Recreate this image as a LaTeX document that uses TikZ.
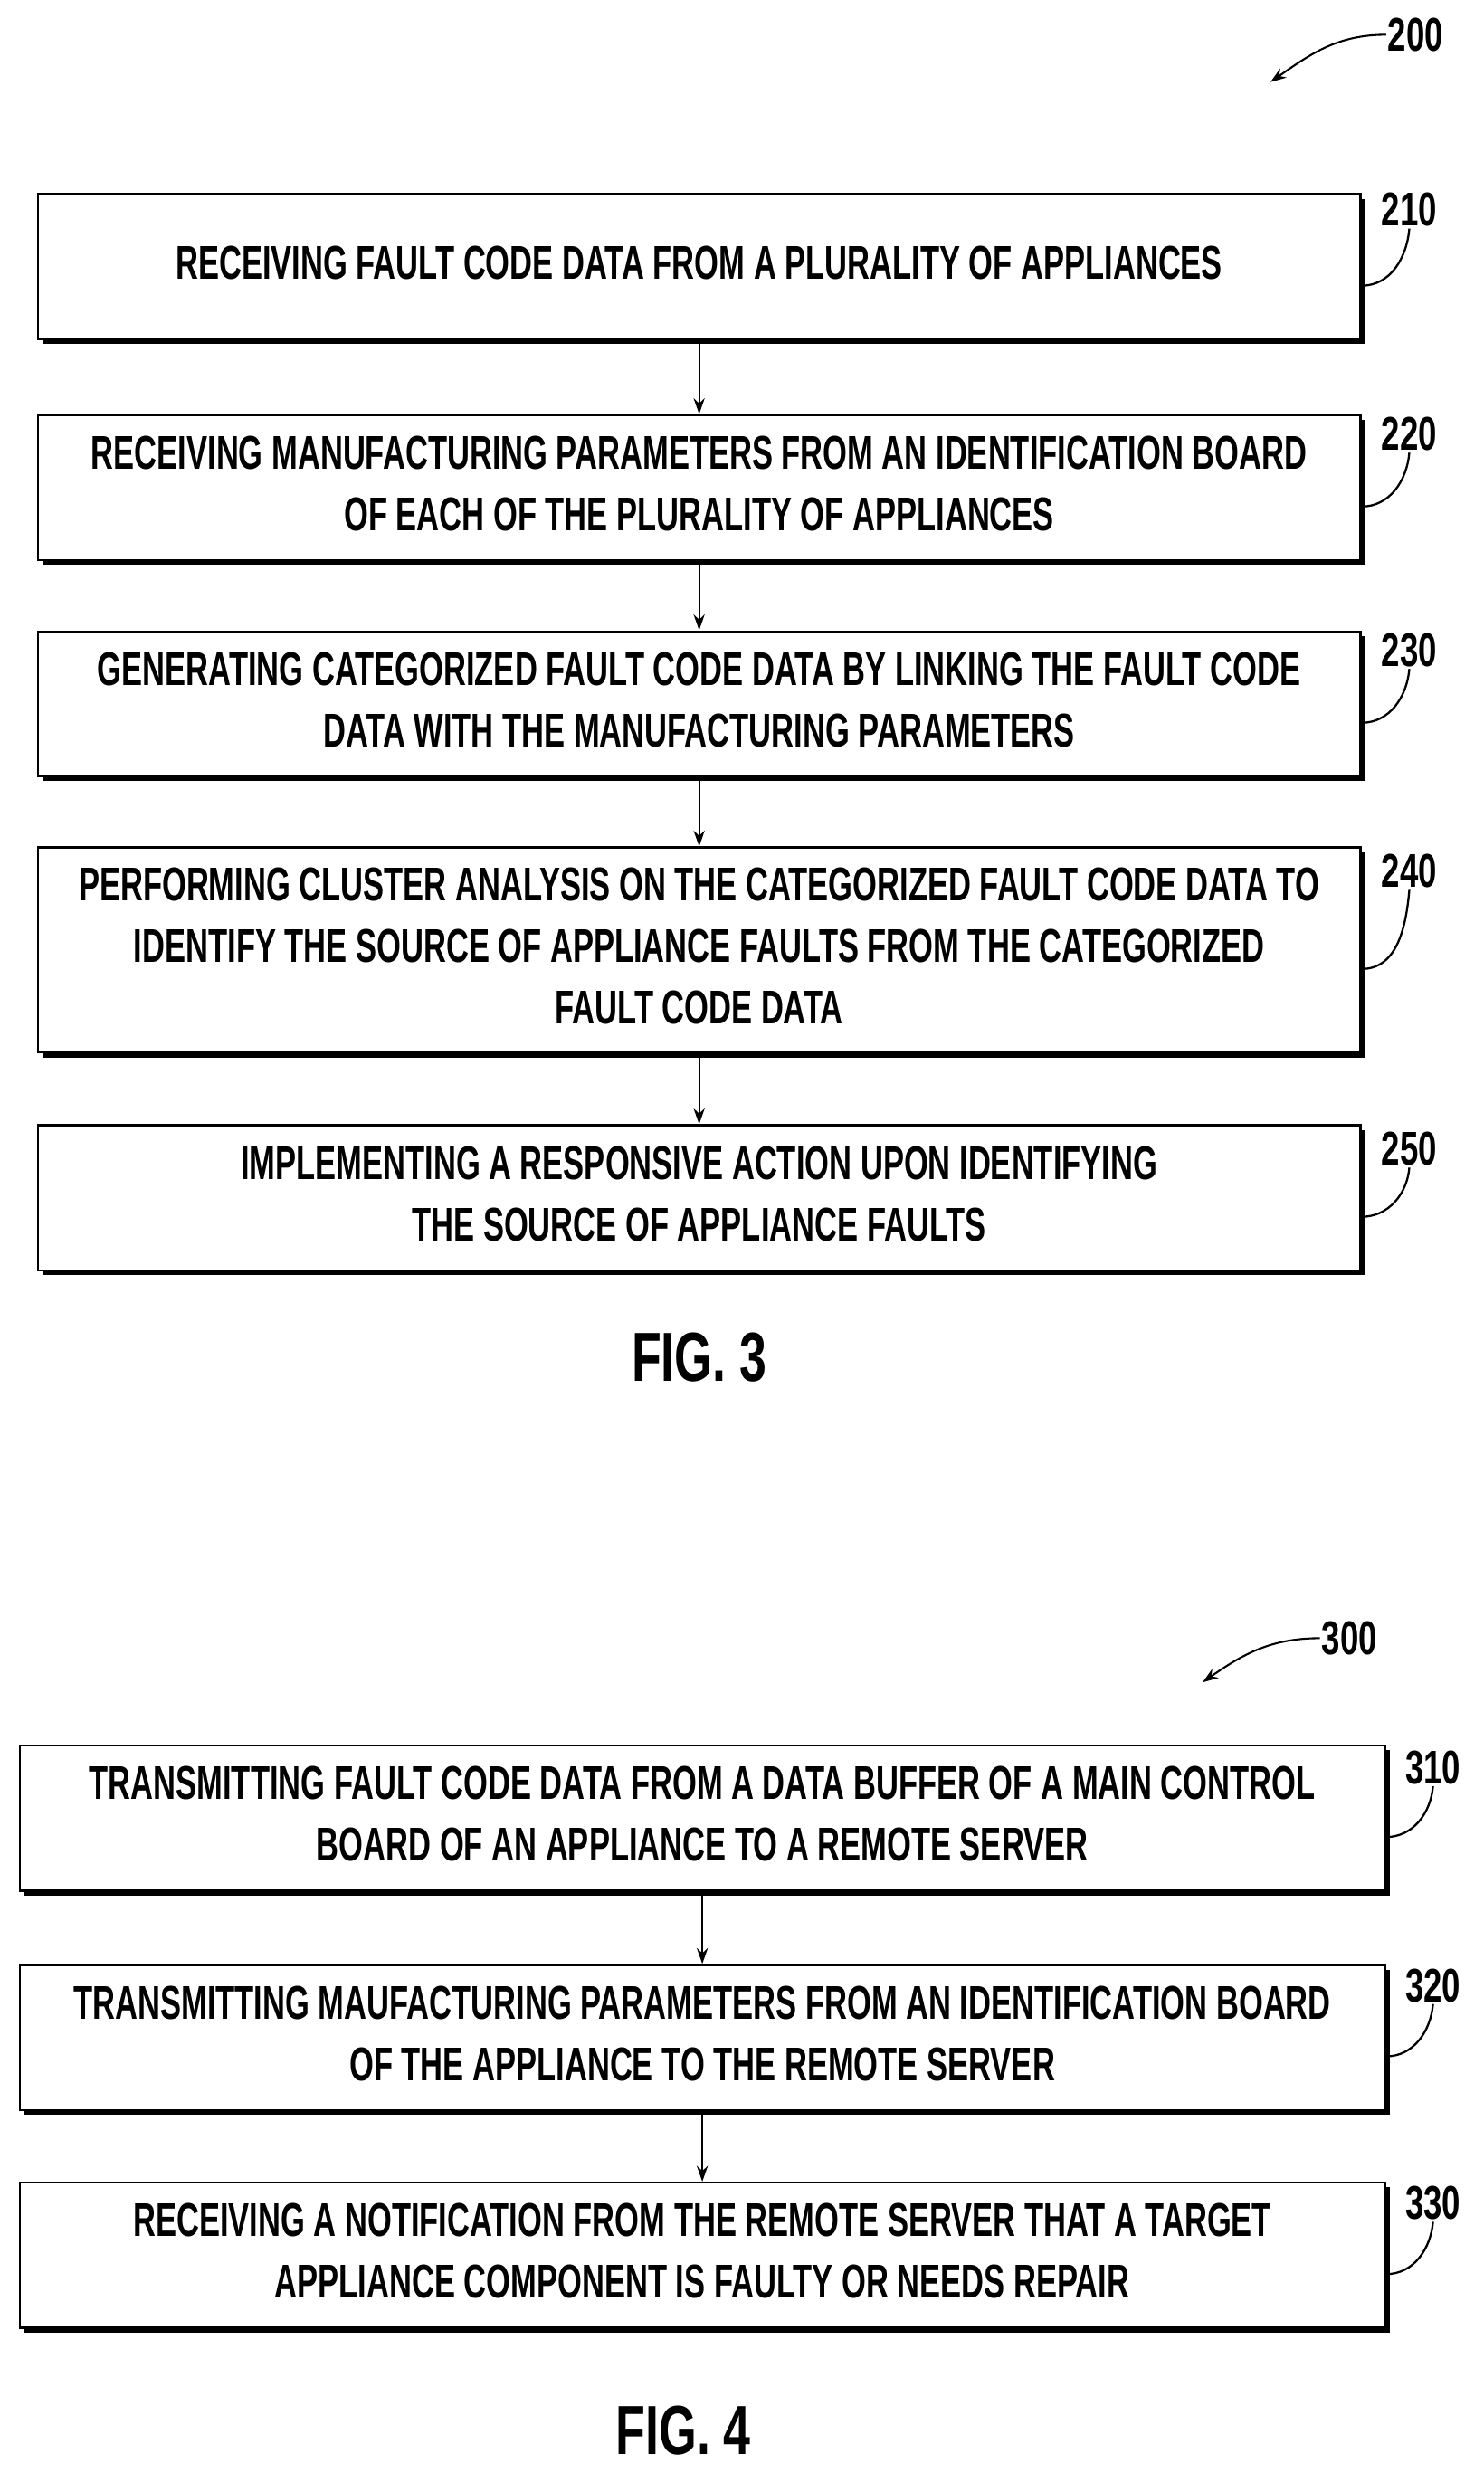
\documentclass[tikz,border=0pt]{standalone}
\usepackage{fontspec}
\setmainfont{Liberation Sans}
\usetikzlibrary{shadows,arrows.meta,calc}
\newcommand{\steptext}[1]{\scalebox{0.66}[1]{\begin{tabular}{@{}c@{}}#1\end{tabular}}}
\newcommand{\reftext}[1]{\scalebox{0.7}[1]{#1}}
\begin{document}
\begin{tikzpicture}[
        x = 1pt, y = -1pt,
        font = \bfseries\fontsize{30}{39}\selectfont,
        stepbox/.style = {draw, fill=white, line width=1.3pt, inner sep=0pt,
                       minimum height=92pt,
                       drop shadow={shadow xshift=3pt, shadow yshift=-3pt, opacity=1, fill=black}},
        flow/.style = {-{Stealth[length=10pt,width=7pt]}, line width=1.2pt},
        lead/.style = {line width=1.3pt},
        refnum/.style = {inner sep=1pt},
      ]
        \useasboundingbox (0,0) rectangle (940,1567);
        % figure 3
        \node[stepbox, minimum width=838pt] (s210) at (443,169) {\steptext{RECEIVING FAULT CODE DATA FROM A PLURALITY OF APPLIANCES}};
        \node[stepbox, minimum width=838pt] (s220) at (443,309) {\steptext{RECEIVING MANUFACTURING PARAMETERS FROM AN IDENTIFICATION BOARD\\OF EACH OF THE PLURALITY OF APPLIANCES}};
        \node[stepbox, minimum width=838pt] (s230) at (443,446) {\steptext{GENERATING CATEGORIZED FAULT CODE DATA BY LINKING THE FAULT CODE\\DATA WITH THE MANUFACTURING PARAMETERS}};
        \node[stepbox, minimum width=838pt, minimum height=130pt] (s240) at (443,602) {\steptext{PERFORMING CLUSTER ANALYSIS ON THE CATEGORIZED FAULT CODE DATA TO\\IDENTIFY THE SOURCE OF APPLIANCE FAULTS FROM THE CATEGORIZED\\FAULT CODE DATA}};
        \node[stepbox, minimum width=838pt] (s250) at (443,759) {\steptext{IMPLEMENTING A RESPONSIVE ACTION UPON IDENTIFYING\\THE SOURCE OF APPLIANCE FAULTS}};
        \draw[flow] (s210) -- (s220);
        \draw[flow] (s220) -- (s230);
        \draw[flow] (s230) -- (s240);
        \draw[flow] (s240) -- (s250);
        \foreach \n/\y in {210/133, 220/275, 230/412, 240/552, 250/728} {
            \node[refnum] (l\n) at (893,\y) {\reftext{\n}};
            \draw[lead] (l\n.south) to[out=-95,in=0] ([yshift=-12pt]s\n.east);
        }
        \node[refnum] (l200) at (897,22) {\reftext{200}};
        \draw[flow] (l200.west) to[out=180,in=35] (805,52);
        \node[font=\bfseries\fontsize{44}{50}\selectfont] (fig3) at (443,860) {\reftext{FIG. 3}};
        % figure 4
        \node[stepbox, minimum width=865pt] (s310) at (445,1152) {\steptext{TRANSMITTING FAULT CODE DATA FROM A DATA BUFFER OF A MAIN CONTROL\\BOARD OF AN APPLIANCE TO A REMOTE SERVER}};
        \node[stepbox, minimum width=865pt] (s320) at (445,1291) {\steptext{TRANSMITTING MAUFACTURING PARAMETERS FROM AN IDENTIFICATION BOARD\\OF THE APPLIANCE TO THE REMOTE SERVER}};
        \node[stepbox, minimum width=865pt] (s330) at (445,1429) {\steptext{RECEIVING A NOTIFICATION FROM THE REMOTE SERVER THAT A TARGET\\APPLIANCE COMPONENT IS FAULTY OR NEEDS REPAIR}};
        \draw[flow] (s310) -- (s320);
        \draw[flow] (s320) -- (s330);
        \foreach \n/\y in {310/1120, 320/1258, 330/1396} {
            \node[refnum] (l\n) at (908,\y) {\reftext{\n}};
            \draw[lead] (l\n.south) to[out=-95,in=0] ([yshift=-12pt]s\n.east);
        }
        \node[refnum] (l300) at (855,1038) {\reftext{300}};
        \draw[flow] (l300.west) to[out=180,in=35] (762,1066);
        \node[font=\bfseries\fontsize{44}{50}\selectfont] (fig4) at (433,1540) {\reftext{FIG. 4}};
\end{tikzpicture}
\end{document}
